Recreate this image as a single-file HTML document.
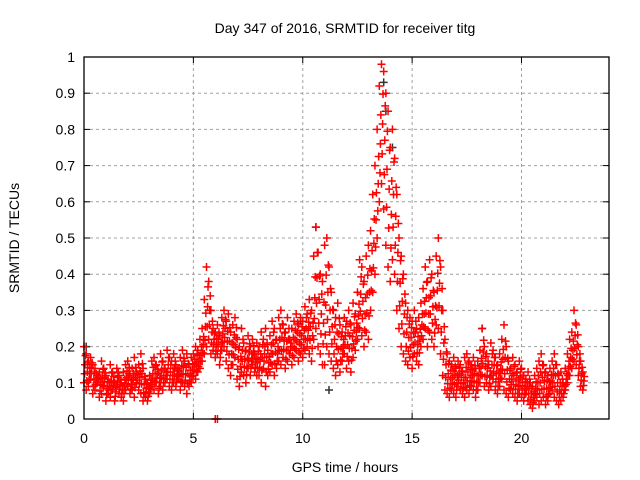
<!DOCTYPE html>
<html><head><meta charset="utf-8"><style>
body{margin:0;background:#fff}
svg{display:block;font-family:"Liberation Sans",sans-serif}
</style></head><body>
<svg id="chart" width="640" height="480">
<text x="345" y="33" text-anchor="middle" font-size="14">Day 347 of 2016, SRMTID for receiver titg</text>
<text x="345" y="472" text-anchor="middle" font-size="14">GPS time / hours</text>
<text transform="translate(19,238) rotate(-90)" text-anchor="middle" font-size="14">SRMTID / TECUs</text>
<g id="grid"></g>
<g id="ticks"></g>
<g id="marks"></g>
<rect x="84" y="57" width="525" height="362" fill="none" stroke="#000" stroke-width="1.3"/>
</svg>
<script>
const xTicks=[0,5,10,15,20];
const yTicks=[0,0.1,0.2,0.3,0.4,0.5,0.6,0.7,0.8,0.9,1];
const yTickLabels=["0","0.1","0.2","0.3","0.4","0.5","0.6","0.7","0.8","0.9","1"];
const tStart=0, tStep=0.1;
const upperVals=[.20,.18,.16,.17,.15,.14,.12,.13,.16,.14,
.12,.11,.15,.13,.10,.14,.12,.10,.13,.15,
.16,.12,.14,.17,.13,.15,.18,.14,.11,.10,
.12,.16,.17,.15,.13,.18,.16,.14,.19,.17,
.16,.18,.15,.14,.17,.19,.16,.18,.15,.17,
.18,.20,.19,.22,.25,.33,.42,.38,.30,.25,
.24,.26,.23,.28,.30,.27,.29,.24,.26,.28,
.22,.20,.25,.21,.19,.23,.20,.22,.18,.21,
.20,.24,.22,.25,.19,.23,.27,.25,.22,.28,
.30,.26,.24,.28,.22,.25,.27,.29,.26,.28,
.27,.31,.29,.33,.30,.45,.53,.46,.40,.38,
.48,.50,.42,.35,.30,.28,.32,.26,.24,.28,
.27,.30,.26,.32,.29,.35,.44,.42,.38,.45,
.48,.52,.62,.70,.80,.92,.98,.96,.90,.85,
.75,.80,.72,.62,.50,.45,.40,.32,.30,.28,
.27,.30,.25,.28,.32,.36,.42,.38,.44,.40,
.35,.45,.50,.42,.30,.22,.18,.16,.15,.17,
.14,.16,.15,.13,.17,.18,.16,.15,.17,.14,
.16,.19,.25,.20,.18,.15,.21,.19,.17,.15,
.18,.22,.26,.20,.16,.14,.17,.15,.13,.16,
.14,.12,.11,.13,.10,.09,.12,.14,.16,.18,
.15,.13,.12,.14,.16,.18,.15,.12,.13,.10,
.14,.18,.22,.24,.30,.26,.20,.16,.13];
const lowerVals=[.10,.08,.09,.11,.07,.08,.10,.06,.07,.09,
.05,.07,.06,.08,.05,.09,.07,.06,.05,.08,
.09,.07,.08,.06,.10,.08,.07,.05,.06,.05,
.07,.09,.08,.10,.07,.09,.08,.10,.11,.09,
.08,.10,.09,.11,.08,.10,.09,.07,.09,.10,
.12,.11,.13,.14,.16,.18,.20,.22,.18,.19,
.17,.18,.15,.19,.20,.16,.14,.12,.15,.17,
.11,.09,.13,.12,.10,.14,.12,.15,.13,.12,
.12,.10,.14,.09,.12,.13,.15,.12,.14,.16,
.15,.17,.14,.16,.18,.15,.17,.19,.16,.18,
.17,.19,.20,.18,.16,.22,.25,.20,.18,.15,
.15,.20,.18,.16,.14,.12,.15,.13,.16,.18,
.14,.16,.13,.17,.19,.22,.25,.23,.20,.24,
.22,.30,.35,.40,.50,.60,.65,.58,.48,.42,
.38,.44,.40,.30,.25,.20,.18,.16,.15,.17,
.14,.18,.16,.15,.20,.22,.25,.20,.24,.22,
.20,.26,.25,.18,.12,.08,.07,.06,.08,.07,
.06,.09,.08,.07,.06,.08,.07,.09,.08,.06,
.08,.10,.12,.09,.10,.08,.09,.11,.08,.07,
.09,.11,.08,.07,.06,.08,.07,.06,.05,.07,
.06,.05,.07,.05,.04,.03,.05,.06,.04,.05,
.06,.04,.05,.07,.08,.06,.05,.04,.05,.06,
.08,.10,.12,.14,.16,.15,.12,.09,.08];
const blackTimes=[0.1,10.6,13.7,13.8,14.1,18.2,11.2,9.9];
const blackVals=[0.2,0.53,0.93,0.85,0.75,0.25,0.08,0.27];
const zeroTimes=[6.0,6.1];
const zeroVals=[0,0];
const X0=84,X1=609,Y0=419,Y1=57,XMAX=24;
const sx=t=>X0+(X1-X0)*t/XMAX, sy=v=>Y0-(Y0-Y1)*v;
const NS="http://www.w3.org/2000/svg";
const grid=document.getElementById('grid'),ticks=document.getElementById('ticks'),marks=document.getElementById('marks');
function mk(tag,attrs,parent){const e=document.createElementNS(NS,tag);for(const k in attrs)e.setAttribute(k,attrs[k]);parent.appendChild(e);return e;}
xTicks.forEach(t=>{const x=sx(t);
 if(t>0){const g=mk('line',{x1:x,x2:x,y1:Y0,y2:Y1,stroke:'#a0a0a0','stroke-dasharray':'3,3'},grid);
 
 }
 mk('line',{x1:x,x2:x,y1:Y0,y2:Y0-6,stroke:'#000'},ticks);
 mk('line',{x1:x,x2:x,y1:Y1,y2:Y1+6,stroke:'#000'},ticks);
 const l=mk('text',{x:x,y:Y0+24,'text-anchor':'middle','font-size':'14'},ticks);l.textContent=t;
 
 });
yTicks.forEach((v,i)=>{const y=sy(v);
 if(v>0&&v<1){const g=mk('line',{x1:X0,x2:X1,y1:y,y2:y,stroke:'#a0a0a0','stroke-dasharray':'3,3'},grid);
 
 }
 mk('line',{x1:X0,x2:X0+6,y1:y,y2:y,stroke:'#000'},ticks);
 mk('line',{x1:X1,x2:X1-6,y1:y,y2:y,stroke:'#000'},ticks);
 const l=mk('text',{x:X0-9,y:y+5,'text-anchor':'end','font-size':'14'},ticks);l.textContent=yTickLabels[i];
 
 });
function plus(t,v,col,name){const x=sx(t),y=sy(v);
 const p=mk('path',{d:`M${x-4},${y}h8M${x},${y-4}v8`,stroke:col,'stroke-width':'1.5',fill:'none'},marks);
 
 }
blackTimes.forEach((t,i)=>plus(t,blackVals[i],'#333','black-point'));
upperVals.forEach((u,i)=>{const t=tStart+i*tStep,l=lowerVals[i];
 plus(t,u,'#f00','upper-point');
 plus(t,l,'#f00','lower-point');
 plus(t+0.05,(u+l)/2,'#f00','mid-point');
 plus(t+0.03,l+(u-l)*0.25,'#f00','mid-point');
 plus(t+0.07,l+(u-l)*0.75,'#f00','mid-point');});
zeroTimes.forEach((t,i)=>plus(t,zeroVals[i],'#f00','zero-point'));
</script>
</body></html>
